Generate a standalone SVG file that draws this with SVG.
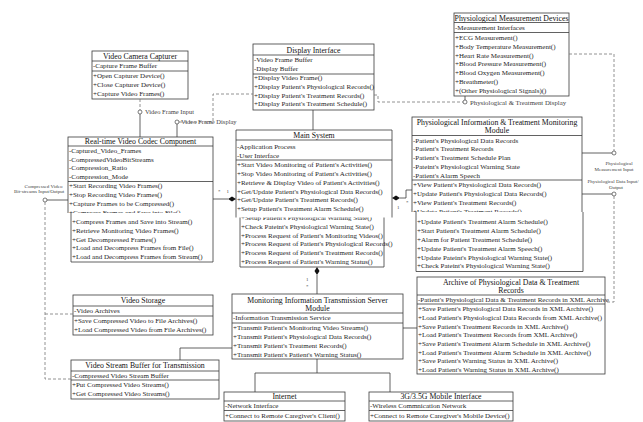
<svg xmlns="http://www.w3.org/2000/svg" width="643" height="422" viewBox="0 0 643 422">
<style>
.b{fill:#fff;stroke:#3a3a3a;stroke-width:0.8}
.w{fill:#fff;stroke:none}
.l{fill:none;stroke:#3a3a3a;stroke-width:0.8}
.d{fill:none;stroke:#777;stroke-width:0.8;stroke-dasharray:3 2}
.c{fill:#fff;stroke:#444;stroke-width:0.7}
.k{fill:#111;stroke:none}
text{font-family:"Liberation Serif","Times New Roman",serif;font-size:7px;fill:#1e1e1e}
.h{font-size:7.8px;text-anchor:middle;fill:#111}
.s{font-size:5px;fill:#444}
.sm{font-size:5px;fill:#444;text-anchor:middle}
.lb{font-size:6.5px;fill:#444}
</style>
<rect width="643" height="422" fill="#fff"/>

<g id="vcc">
<rect class="b" x="92" y="51" width="96" height="48"/>
<text class="h" x="140" y="58.7">Video Camera Capturer</text>
<path class="l" d="M92,61H188M92,71H188"/>
<text x="93" y="68.4">-Capture Frame Buffer</text>
<text x="93" y="78.4">+Open Capturer Device()</text>
<text x="93" y="87">+Close Capturer Device()</text>
<text x="93" y="95.6">+Capture Video Frames()</text>
</g>

<g id="display">
<rect class="b" x="253" y="44" width="121" height="66"/>
<text class="h" x="313.5" y="52.7">Display Interface</text>
<path class="l" d="M253,55H374M253,74H374"/>
<text x="254" y="62.4">-Video Frame Buffer</text>
<text x="254" y="71">-Display Buffer</text>
<text x="254" y="80.4">+Display Video Frame()</text>
<text x="254" y="89">+Display Patient's Physiological Records()</text>
<text x="254" y="97.6">+Display Patient's Treatment Records()</text>
<text x="254" y="106.2">+Display Patient's Treatment Schedule()</text>
</g>

<g id="pmd">
<rect class="b" x="454" y="13" width="115" height="83"/>
<text class="h" x="511.5" y="20.7">Physiological Measurement Devices</text>
<path class="l" d="M454,22.5H569M454,32.5H569"/>
<text x="455" y="29.9">-Measurement Interfaces</text>
<text x="455" y="39.9">+ECG Measurement()</text>
<text x="455" y="48.7">+Body Temperature Measurement()</text>
<text x="455" y="57.5">+Heart Rate Measurement()</text>
<text x="455" y="66.3">+Blood Pressure Measurement()</text>
<text x="455" y="75.1">+Blood Oxygen Measurement()</text>
<text x="455" y="83.9">+Breathmeter()</text>
<text x="455" y="92.7">+(Other Physiological Signals)()</text>
</g>

<g id="codec">
<rect class="b" x="68" y="137" width="145" height="80"/>
<text class="h" x="140.5" y="144.2">Real-time Video Codec Component</text>
<path class="l" d="M68,146H213M68,181.5H213"/>
<text x="69" y="152.9">-Captured_Video_Frames</text>
<text x="69" y="161.5">-CompressedVideoBitStreams</text>
<text x="69" y="170.1">-Compression_Ratio</text>
<text x="69" y="178.7">-Compression_Mode</text>
<text x="69" y="188.4">+Start Recording Video Frames()</text>
<text x="69" y="197">+Stop Recording Video Frames()</text>
<text x="69" y="205.6">+Capture Frames to be Compressed()</text>
<text x="69" y="215">+Compress Frames and Save into File()</text>
<rect class="w" x="67" y="213" width="147.5" height="50"/>
<path class="l" d="M71,213V262H213V213"/>
<text x="72" y="224.4">+Compress Frames and Save into Stream()</text>
<text x="72" y="233">+Retrieve Monitoring Video Frames()</text>
<text x="72" y="241.6">+Get Decompressed Frames()</text>
<text x="72" y="250.2">+Load and Decompress Frames from File()</text>
<text x="72" y="258.8">+Load and Decompress Frames from Stream()</text>
</g>

<g id="main">
<path class="l" d="M240,214V267H384V214"/>
<text x="241" y="220.2">+Setup Patient's Physiological Warning State()</text>
<text x="241" y="228.9">+Check Pateint's Physiological Warning State()</text>
<text x="241" y="237.6">+Process Request of Patient's Monitoring Videos()</text>
<text x="241" y="246.3">+Process Request of Patient's Physiological Records()</text>
<text x="241" y="255">+Process Request of Patient's Treatment Records()</text>
<text x="241" y="263.7">+Process Request of Patient's Warning Status()</text>
<rect class="w" x="235.5" y="129.5" width="157" height="88"/>
<path class="l" d="M236,217.5V130H392V217.5M236,140H392M236,160H392"/>
<text class="h" x="314" y="137.7">Main System</text>
<text x="237" y="148.9">-Application Process</text>
<text x="237" y="157.5">-User Interface</text>
<text x="237" y="167.4">+Start Video Monitoring of Patient's Activities()</text>
<text x="237" y="176.1">+Stop Video Monitoring of Patient's Activities()</text>
<text x="237" y="184.8">+Retrieve &amp; Display Video of Patient's Activities()</text>
<text x="237" y="193.5">+Get/Update Patient's Physiological Data Records()</text>
<text x="237" y="202.2">+Get/Update Patient's Treatment Records()</text>
<text x="237" y="210.9">+Setup Patient's Treatment Alarm Schedule()</text>
</g>

<g id="pimon">
<rect class="b" x="412" y="117" width="170" height="97"/>
<text class="h" x="497" y="125.2">Physiological Information &amp; Treatment Monitoring</text>
<text class="h" x="497" y="133.2">Module</text>
<path class="l" d="M412,135.5H582M412,180H582"/>
<text x="413" y="142.7">-Patient's Physiological Data Records</text>
<text x="413" y="151.4">-Patient's Treatment Records</text>
<text x="413" y="160.1">-Patient's Treatment Schedule Plan</text>
<text x="413" y="168.8">-Pateint's Physiological Warning State</text>
<text x="413" y="177.5">-Patient's Alarm Speech</text>
<text x="413" y="187.4">+View Patient's Physiological Data Records()</text>
<text x="413" y="196.1">+Update Patient's Physiological Data Records()</text>
<text x="413" y="204.8">+View Patient's Treatment Records()</text>
<text x="413" y="213.8">+Update Patient's Treatment Records()</text>
<rect class="w" x="411" y="212" width="173" height="60"/>
<path class="l" d="M416,212V271.5H583V212"/>
<text x="417" y="224.4">+Update Patient's Treatment Alarm Schedule()</text>
<text x="417" y="233.2">+Start Patient's Treatment Alarm Schedule()</text>
<text x="417" y="242">+Alarm for Patient Treatment Schedule()</text>
<text x="417" y="250.8">+Update Patient's Treatment Alarm Speech()</text>
<text x="417" y="259.6">+Update Pateint's Physiological Warning State()</text>
<text x="417" y="268.4">+Check Pateint's Physiological Warning State()</text>
</g>

<g id="archive">
<rect class="b" x="417" y="277" width="188" height="97"/>
<text class="h" x="511" y="284.6">Archive of Physiological Data &amp; Treatment</text>
<text class="h" x="511" y="292.8">Records</text>
<path class="l" d="M417,295H605M417,304H605"/>
<text x="418" y="301.8">-Patient's Physiological Data &amp; Treatment Records in XML Archive</text>
<text x="418" y="311.2">+Save Patient's Physiological Data Records in XML Archive()</text>
<text x="418" y="319.9">+Load Patient's Physiological Data Records from XML Archive()</text>
<text x="418" y="328.6">+Save Patient's Treatment Records in XML Archive()</text>
<text x="418" y="337.3">+Load Patient's Treatment Records from XML Archive()</text>
<text x="418" y="346">+Save Patient's Treatment Alarm Schedule in XML Archive()</text>
<text x="418" y="354.7">+Load Patient's Treatment Alarm Schedule in XML Archive()</text>
<text x="418" y="363.4">+Save Patient's Warning Status in XML Archive()</text>
<text x="418" y="372.1">+Load Patient's Warning Status in XML Archive()</text>
</g>

<g id="monitor">
<rect class="b" x="232" y="294" width="171" height="65"/>
<text class="h" x="317.5" y="302.6">Monitoring Information Transmission Server</text>
<text class="h" x="317.5" y="311.1">Module</text>
<path class="l" d="M232,313H403M232,323H403"/>
<text x="233" y="320.4">-Information Transmission Service</text>
<text x="233" y="330.4">+Transmit Patient's Monitoring Video Streams()</text>
<text x="233" y="339.1">+Transmit Patient's Physiological Data Records()</text>
<text x="233" y="347.8">+Transmit Patient's Treatment Records()</text>
<text x="233" y="356.5">+Transmit Patient's Patient's Warning Status()</text>
</g>

<g id="vstorage">
<rect class="b" x="73" y="295" width="140" height="40"/>
<text class="h" x="143" y="303.2">Video Storage</text>
<path class="l" d="M73,306H213M73,316H213"/>
<text x="74" y="313.4">-Video Archives</text>
<text x="74" y="323.4">+Save Compressed Video to File Archives()</text>
<text x="74" y="332.1">+Load Compressed Video from File Archives()</text>
</g>

<g id="vbuffer">
<rect class="b" x="71" y="360" width="148" height="39"/>
<text class="h" x="145" y="368.2">Video Stream Buffer for Transmission</text>
<path class="l" d="M71,371H219M71,380H219"/>
<text x="72" y="377.9">-Compressed Video Stream Buffer</text>
<text x="72" y="387.4">+Put Compressed Video Streams()</text>
<text x="72" y="396.1">+Get Compressed Video Streams()</text>
</g>

<g id="internet">
<rect class="b" x="224" y="392" width="121" height="29"/>
<text class="h" x="284.5" y="399.2">Internet</text>
<path class="l" d="M224,401H345M224,410.5H345"/>
<text x="225" y="408">-Network Interface</text>
<text x="225" y="417.5">+Connect to Remote Caregiver's Client()</text>
</g>

<g id="mobile">
<rect class="b" x="369" y="392" width="144" height="29"/>
<text class="h" x="441" y="399.2">3G/3.5G Mobile Interface</text>
<path class="l" d="M369,401H513M369,410.5H513"/>
<text x="370" y="408">-Wireless Commnication Network</text>
<text x="370" y="417.5">+Connect to Remote Caregiver's Mobile Device()</text>
</g>

<g id="connectors">
<path class="d" d="M140,99V110"/>
<path class="l" d="M140,114V137"/>
<circle class="c" cx="140" cy="112" r="2"/>
<text class="lb" x="145" y="114.2">Video Frame Input</text>
<path class="d" d="M179,122H213V94H253"/>
<path class="l" d="M177,124V137"/>
<circle class="c" cx="177" cy="122" r="2"/>
<text class="lb" x="181" y="124.2">Video Frame Display</text>
<path class="l" d="M313,110V130"/>
<path class="d" d="M374,95H378V102H463"/>
<path class="l" d="M465,100V96"/>
<circle class="c" cx="465" cy="102" r="2"/>
<text class="lb" x="470" y="104.5" style="font-size:6.8px">Physiological &amp; Treatment Display</text>
<path class="d" d="M569,54H614V151"/>
<path class="l" d="M582,153H612"/>
<circle class="c" cx="614" cy="153" r="2"/>
<text class="sm" x="619" y="164.5">Physiological</text>
<text class="sm" x="614" y="170.5">Measurement Input</text>
<text class="sm" x="613" y="182.5">Physiological Data Input/</text>
<text class="sm" x="616" y="188.5">Output</text>
<path class="l" d="M582,194H612"/>
<circle class="c" cx="614" cy="194" r="2"/>
<path class="d" d="M614,196V302H605"/>
<text class="sm" x="43.5" y="187.8">Compressed Video</text>
<text class="sm" x="39" y="192.8">Bit-streams Input/Output</text>
<path class="l" d="M47,200H68"/>
<circle class="c" cx="45" cy="200" r="2"/>
<path class="d" d="M45,202V379H71M45,314H73"/>
<path class="l" d="M213,199H228"/>
<polygon class="k" points="228,199 232,196.5 236,199 232,201.5"/>
<text class="s" x="218" y="193">*</text>
<text class="s" x="226.5" y="193">1</text>
<polygon class="k" points="392,198 396,195.5 400,198 396,200.5"/>
<path class="l" d="M400,198H406V190H412"/>
<text class="s" x="397" y="209">1</text>
<text class="s" x="406" y="204">*</text>
<polygon class="k" points="317,267 319.5,271 317,275 314.5,271"/>
<path class="l" d="M317,275V294"/>
<text class="s" x="306" y="281">1</text>
<text class="s" x="306" y="287.5">*</text>
<path class="l" d="M232,348H180V360"/>
<path class="l" d="M403,328H417"/>
<path class="l" d="M317,359V373M255,392V373H390V392"/>
</g>
</svg>
